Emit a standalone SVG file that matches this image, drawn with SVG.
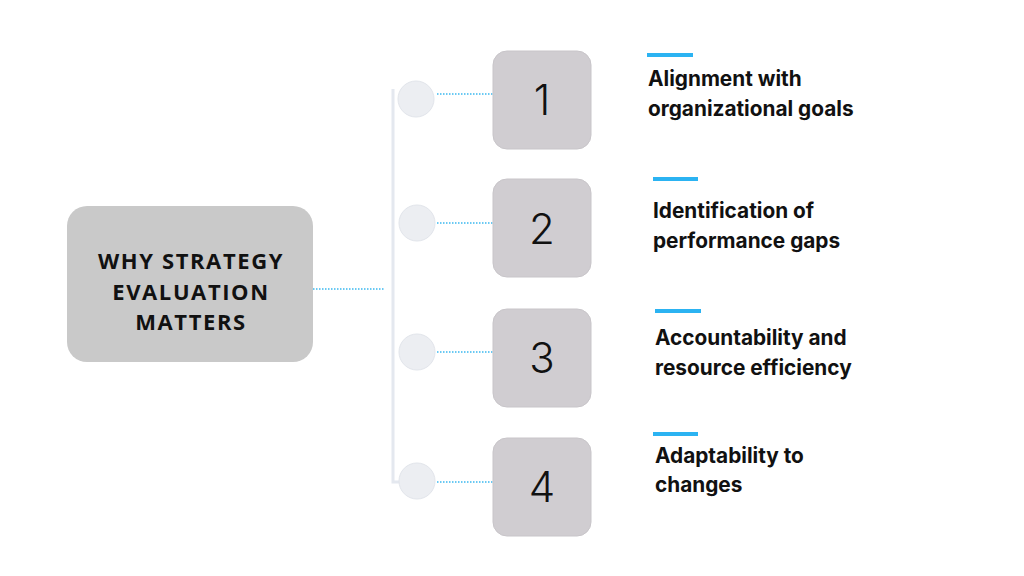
<svg xmlns="http://www.w3.org/2000/svg" width="1024" height="576" viewBox="0 0 1024 576">
<defs>
<style>
.title{font-family:"Open Sans","Liberation Sans",sans-serif;font-weight:700;font-size:22px;letter-spacing:1.6px;fill:#111;text-anchor:middle}
.num{font-family:Inter,"Liberation Sans",sans-serif;font-weight:300;font-size:42px;fill:#111;text-anchor:middle}
.lbl{font-family:Inter,"Liberation Sans",sans-serif;font-weight:700;font-size:20.8px;fill:#111}
.box{fill:#d0cdd1;stroke:#c8c5c9;stroke-width:1}
.dot{fill:#eceef2;stroke:#e2e5eb;stroke-width:1}
.bar{fill:#2bb3f2}
.conn{stroke:#3ab8f0;stroke-width:1.5;stroke-dasharray:1.5 1.5;fill:none}
</style>
</defs>
<rect width="1024" height="576" fill="#ffffff"/>
<g id="connectors">
<path d="M393 89 V482 H400" stroke="#e4e8ef" stroke-width="3" fill="none"/>
<line class="conn" x1="313" y1="289" x2="384" y2="289"/>
<line class="conn" x1="437" y1="94" x2="493" y2="94"/>
<line class="conn" x1="437" y1="223" x2="493" y2="223"/>
<line class="conn" x1="437" y1="352" x2="493" y2="352"/>
<line class="conn" x1="437" y1="482" x2="493" y2="482"/>
</g>
<g id="main">
<rect x="67" y="206" width="246" height="156" rx="20" fill="#c9c9c9"/>
<text class="title" x="191" y="269">WHY STRATEGY</text>
<text class="title" x="191" y="300">EVALUATION</text>
<text class="title" x="191" y="330">MATTERS</text>
</g>
<g id="item1">
<circle class="dot" cx="416" cy="99" r="18"/>
<rect class="box" x="493" y="51" width="98" height="98" rx="14"/>
<text class="num" x="542" y="115">1</text>
<rect class="bar" x="647" y="53" width="46" height="4"/>
<text class="lbl" x="648" y="86">Alignment with</text>
<text class="lbl" x="648" y="116">organizational goals</text>
</g>
<g id="item2">
<circle class="dot" cx="417" cy="223" r="18"/>
<rect class="box" x="493" y="179" width="98" height="98" rx="14"/>
<text class="num" x="542" y="244">2</text>
<rect class="bar" x="653" y="177" width="45" height="4"/>
<text class="lbl" x="653" y="218">Identification of</text>
<text class="lbl" x="653" y="248">performance gaps</text>
</g>
<g id="item3">
<circle class="dot" cx="417" cy="352" r="18"/>
<rect class="box" x="493" y="309" width="98" height="98" rx="14"/>
<text class="num" x="542" y="373">3</text>
<rect class="bar" x="655" y="309" width="46" height="4"/>
<text class="lbl" x="655" y="345">Accountability and</text>
<text class="lbl" x="655" y="375">resource efficiency</text>
</g>
<g id="item4">
<circle class="dot" cx="417" cy="481" r="18"/>
<rect class="box" x="493" y="438" width="98" height="98" rx="14"/>
<text class="num" x="542" y="502">4</text>
<rect class="bar" x="653" y="432" width="45" height="4"/>
<text class="lbl" x="655" y="463">Adaptability to</text>
<text class="lbl" x="655" y="492">changes</text>
</g>
</svg>
